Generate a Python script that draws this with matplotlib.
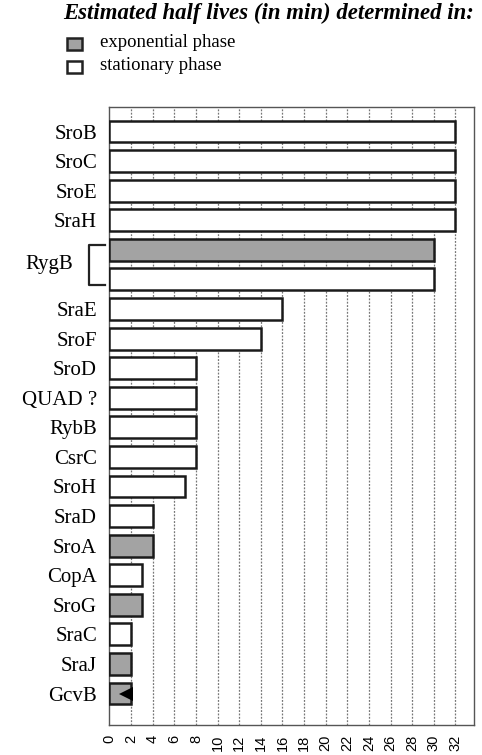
import matplotlib
matplotlib.use("Agg")
import matplotlib.pyplot as plt
from matplotlib.patches import Rectangle
import matplotlib.transforms as mtransforms

plt.rcParams['font.family'] = ['Liberation Serif', 'DejaVu Serif']

# data (top to bottom)
names = ["SroB", "SroC", "SroE", "SraH", "RygB", "RygB", "SraE", "SroF", "SroD",
         "QUAD ?", "RybB", "CsrC", "SroH", "SraD", "SroA", "CopA", "SroG", "SraC",
         "SraJ", "GcvB"]
half_lives = [32, 32, 32, 32, 30, 30, 16, 14, 8, 8, 8, 8, 7, 4, 4, 3, 3, 2, 2, 2]
phase = ["stat", "stat", "stat", "stat", "exp", "stat", "stat", "stat", "stat",
         "stat", "stat", "stat", "stat", "stat", "exp", "stat", "exp", "stat",
         "exp", "exp"]
upper_bound = ["GcvB"]  # value is an upper limit (<)
xticks = list(range(0, 33, 2))

colors = {"exp": "#a3a3a3", "stat": "#ffffff"}

fig = plt.figure(figsize=(4.82, 7.55), dpi=100)
ax = fig.add_axes([0.227, 0.0397, 0.756, 0.8186])

ys = list(range(len(names)))
ax.barh(ys, half_lives, height=0.74, color=[colors[p] for p in phase],
        edgecolor="#1a1a1a", linewidth=1.8, zorder=3)

# upper-bound marker
for y, n, v in zip(ys, names, half_lives):
    if n in upper_bound:
        ax.plot([v - 0.42], [y], marker="<", color="black", markersize=9.5,
                markeredgewidth=0, zorder=4)

ax.set_xlim(0, 33.7)
ax.set_ylim(len(names) - 1 + 1.065, -0.83)

for xv in xticks[1:]:
    ax.axvline(xv, color="#777777", linestyle=(0, (1.5, 1.2)), linewidth=0.9, zorder=1)

ax.set_xticks(xticks)
ax.set_xticklabels([str(t) for t in xticks], rotation=90, fontsize=10.5,
                   family=['Liberation Sans', 'DejaVu Sans'])
ax.tick_params(axis="x", length=0, pad=7)

# y labels (RygB handled with bracket)
ylabels = [n if n != "RygB" else "" for n in names]
ax.set_yticks(ys)
ax.set_yticklabels(ylabels, fontsize=15)
ax.tick_params(axis="y", length=0, pad=9)

trans = mtransforms.blended_transform_factory(ax.transAxes, ax.transData)
ryg = [y for y, n in zip(ys, names) if n == "RygB"]
y0, y1 = min(ryg) - 0.18, max(ryg) + 0.18
ax.plot([-0.012, -0.056, -0.056, -0.012], [y0, y0, y1, y1], transform=trans,
        color="#222222", linewidth=1.6, clip_on=False)
ax.text(-0.10, (min(ryg) + max(ryg)) / 2, "RygB", transform=trans, ha="right",
        va="center", fontsize=15)

for s in ax.spines.values():
    s.set_color("#555555")
    s.set_linewidth(1.0)

# legend / title
fig.text(0.131, 0.982, "Estimated half lives (in min) determined in:", fontsize=16.4,
         fontweight="bold", fontstyle="italic", ha="left", va="center")
fig.patches.append(Rectangle((0.139, 0.934), 0.031, 0.016, transform=fig.transFigure,
                             facecolor=colors["exp"], edgecolor="#222222", linewidth=1.8))
fig.patches.append(Rectangle((0.139, 0.903), 0.031, 0.016, transform=fig.transFigure,
                             facecolor=colors["stat"], edgecolor="#222222", linewidth=1.8))
fig.text(0.207, 0.944, "exponential phase", fontsize=13.5, ha="left", va="center")
fig.text(0.207, 0.913, "stationary phase", fontsize=13.5, ha="left", va="center")

fig.savefig("out.png", dpi=100)
